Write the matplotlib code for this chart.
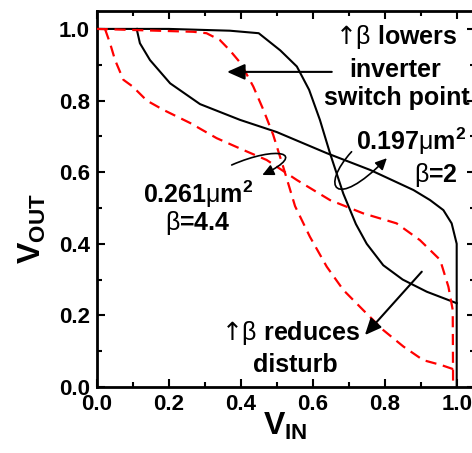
import matplotlib
matplotlib.use('Agg')
import matplotlib.pyplot as plt
from matplotlib.patches import FancyArrowPatch
from matplotlib.path import Path
from matplotlib.ticker import MultipleLocator, FormatStrFormatter

plt.rcParams.update({
    'font.family': ['Liberation Sans', 'DejaVu Sans'],
    'mathtext.fontset': 'custom',
    'mathtext.rm': 'Liberation Sans:weight=normal',
    'mathtext.bf': 'Liberation Sans:weight=bold',
    'mathtext.it': 'Liberation Sans:italic:weight=normal',
    'mathtext.sf': 'DejaVu Sans:weight=normal',
    'mathtext.fallback': 'cm',
})

# beta = 2 (0.197 um^2) butterfly curves - black solid
black_a_x = [0.0, 0.2, 0.37, 0.45, 0.51, 0.556, 0.59, 0.62, 0.648, 0.685, 0.72, 0.75, 0.796, 0.85, 0.917, 1.0]
black_a_y = [1.0, 1.0, 0.995, 0.988, 0.94, 0.895, 0.83, 0.746, 0.653, 0.54, 0.455, 0.40, 0.34, 0.30, 0.266, 0.234]
black_b_x = [0.111, 0.12, 0.148, 0.204, 0.287, 0.398, 0.5, 0.639, 0.76, 0.88, 0.926, 0.963, 0.986, 1.0, 1.0]
black_b_y = [1.0, 0.96, 0.913, 0.848, 0.79, 0.746, 0.712, 0.653, 0.606, 0.55, 0.522, 0.494, 0.457, 0.40, 0.0]

# beta = 4.4 (0.261 um^2) butterfly curves - red dashed
red_c_x = [0.0, 0.268, 0.305, 0.342, 0.37, 0.40, 0.435, 0.463, 0.49, 0.518, 0.551, 0.592, 0.639, 0.685, 0.74, 0.796, 0.852, 0.907, 0.958, 0.99]
red_c_y = [1.0, 0.992, 0.988, 0.969, 0.94, 0.904, 0.839, 0.774, 0.705, 0.615, 0.505, 0.42, 0.336, 0.271, 0.215, 0.159, 0.113, 0.075, 0.061, 0.05]
red_d_x = [0.023, 0.037, 0.051, 0.074, 0.10, 0.139, 0.185, 0.26, 0.333, 0.407, 0.472, 0.556, 0.648, 0.74, 0.833, 0.898, 0.954, 0.977, 0.989, 0.99]
red_d_y = [1.0, 0.96, 0.913, 0.858, 0.839, 0.80, 0.774, 0.737, 0.695, 0.662, 0.634, 0.578, 0.522, 0.485, 0.457, 0.41, 0.355, 0.28, 0.215, 0.0]

x_label = r'$\mathbf{V}_{\mathbf{IN}}$'
y_label = r'$\mathbf{V}_{\mathbf{OUT}}$'
notes = [
    (r'$\mathsf{↑}\mathrm{β}$ lowers', 0.831, 0.957),
    ('inverter', 0.829, 0.867),
    ('switch point', 0.833, 0.788),
    (r'0.197$\mathrm{μ}$m$^{\mathbf{2}}$', 0.874, 0.662),
    (r'$\mathrm{β}$=2', 0.942, 0.573),
    (r'0.261$\mathrm{μ}$m$^{\mathbf{2}}$', 0.281, 0.514),
    (r'$\mathrm{β}$=4.4', 0.282, 0.439),
    (r'$\mathsf{↑}\mathrm{β}$ reduces', 0.538, 0.131),
    ('disturb', 0.553, 0.043),
]

fig = plt.figure(figsize=(4.72, 4.53), dpi=100)
ax = fig.add_axes([0.2049, 0.1457, 0.8008, 0.83])

ax.plot(black_a_x, black_a_y, color='black', lw=1.5, zorder=2)
ax.plot(black_b_x, black_b_y, color='black', lw=1.5, zorder=2)
ax.plot(red_c_x, red_c_y, color='#ff0000', lw=1.6, dashes=(5, 3), zorder=3)
ax.plot(red_d_x, red_d_y, color='#ff0000', lw=1.6, dashes=(5, 3), zorder=3)

ax.set_xlim(0, 1.05)
ax.set_ylim(0, 1.05)
for loc_axis in (ax.xaxis, ax.yaxis):
    loc_axis.set_major_locator(MultipleLocator(0.2))
    loc_axis.set_minor_locator(MultipleLocator(0.1))
    loc_axis.set_major_formatter(FormatStrFormatter('%.1f'))
ax.tick_params(which='both', direction='in', top=True, right=True, width=1.5)
ax.tick_params(which='major', length=6, labelsize=16, pad=5)
ax.tick_params(which='minor', length=3.5)
for lab in ax.get_xticklabels() + ax.get_yticklabels():
    lab.set_fontweight('bold')
for sp in ax.spines.values():
    sp.set_linewidth(2)

ax.set_xlabel(x_label, fontsize=23)
ax.set_ylabel(y_label, fontsize=23)
ax.xaxis.set_label_coords(0.498, -0.064)
ax.yaxis.set_label_coords(-0.128, 0.42)

for txt, x, y in notes:
    ax.text(x, y, txt, fontsize=18, fontweight='bold', ha='center', va='baseline', zorder=5)

# straight arrows
ax.add_patch(FancyArrowPatch((0.653, 0.88), (0.362, 0.88), arrowstyle='-|>,head_length=0.45,head_width=0.2',
                             mutation_scale=24, color='black', lw=1.5, shrinkA=0, shrinkB=0, zorder=6))
ax.add_patch(FancyArrowPatch((0.903, 0.322), (0.745, 0.145), arrowstyle='-|>,head_length=0.45,head_width=0.2',
                             mutation_scale=22, color='black', lw=1.5, shrinkA=0, shrinkB=0, zorder=6))

# curved arrows
curve_261 = Path([(0.375, 0.62), (0.50, 0.675), (0.59, 0.655), (0.46, 0.592)],
                 [Path.MOVETO, Path.CURVE4, Path.CURVE4, Path.CURVE4])
curve_197 = Path([(0.708, 0.657), (0.62, 0.56), (0.66, 0.49), (0.806, 0.639)],
                 [Path.MOVETO, Path.CURVE4, Path.CURVE4, Path.CURVE4])
for p in (curve_261, curve_197):
    ax.add_patch(FancyArrowPatch(path=p, arrowstyle='-|>,head_length=0.45,head_width=0.22',
                                 mutation_scale=15, color='black', lw=1.2, transform=ax.transData, zorder=6))

fig.savefig('out.png', dpi=100)
